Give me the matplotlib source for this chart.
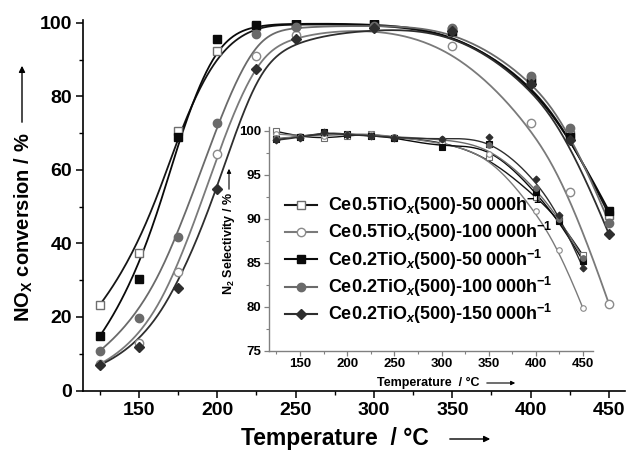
import numpy as np
import matplotlib
matplotlib.use("Agg")
import matplotlib.pyplot as plt
from matplotlib.lines import Line2D

plt.rcParams['font.family'] = ['Liberation Sans', 'DejaVu Sans']
plt.rcParams['font.weight'] = 'bold'
plt.rcParams['mathtext.fontset'] = 'custom'
plt.rcParams['mathtext.rm'] = 'Liberation Sans:bold'
plt.rcParams['mathtext.bf'] = 'Liberation Sans:bold'
plt.rcParams['mathtext.sf'] = 'Liberation Sans:bold'
plt.rcParams['mathtext.it'] = 'Liberation Sans:italic:bold'
plt.rcParams['mathtext.default'] = 'bf'

# ---------------- data ----------------
temps = [125, 150, 175, 200, 225, 250, 300, 350, 400, 425, 450]

labels = [
    "Ce0.5TiO$_{\\mathit{x}}$(500)-50\u2009000h$^{-1}$",
    "Ce0.5TiO$_{\\mathit{x}}$(500)-100\u2009000h$^{-1}$",
    "Ce0.2TiO$_{\\mathit{x}}$(500)-50\u2009000h$^{-1}$",
    "Ce0.2TiO$_{\\mathit{x}}$(500)-100\u2009000h$^{-1}$",
    "Ce0.2TiO$_{\\mathit{x}}$(500)-150\u2009000h$^{-1}$",
]

# NOx conversion (%)
conv_ce05_50k = [23.3, 37.5, 70.6, 92.5, 99.3, 99.6, 99.6, 97.5, 84.5, 69.5, 47.8]
conv_ce05_100k = [7.2, 12.9, 32.2, 64.4, 91.0, 96.8, 98.8, 93.6, 72.9, 54.1, 23.5]
conv_ce02_50k = [14.8, 30.3, 69.0, 95.6, 99.5, 99.8, 99.8, 97.8, 84.0, 69.0, 48.8]
conv_ce02_100k = [10.8, 19.6, 41.7, 72.7, 96.9, 99.0, 99.3, 98.6, 85.5, 71.3, 45.7]
conv_ce02_150k = [6.9, 11.9, 27.8, 54.9, 87.5, 95.6, 98.5, 97.8, 83.5, 68.2, 42.5]

# N2 selectivity (%)
sel_ce05_50k = [99.9, 99.3, 99.1, 99.4, 99.6, 99.2, 98.8, 97.0, 92.5, 89.9, 85.8]
sel_ce05_100k = [99.6, 99.4, 99.4, 99.6, 99.6, 99.3, 98.6, 97.3, 90.8, 86.4, 79.8]
sel_ce02_50k = [99.0, 99.3, 99.8, 99.6, 99.4, 99.2, 98.1, 98.45, 93.0, 89.7, 85.2]
sel_ce02_100k = [99.1, 99.3, 99.7, 99.6, 99.4, 99.3, 99.0, 98.3, 93.5, 90.0, 85.5]
sel_ce02_150k = [98.9, 99.2, 99.8, 99.5, 99.4, 99.2, 99.0, 99.25, 94.5, 90.4, 84.4]

conv_series = [conv_ce05_50k, conv_ce05_100k, conv_ce02_50k, conv_ce02_100k, conv_ce02_150k]
sel_series = [sel_ce05_50k, sel_ce05_100k, sel_ce02_50k, sel_ce02_100k, sel_ce02_150k]

# styles
line_colors = ['#151515', '#7a7a7a', '#0a0a0a', '#6a6a6a', '#2e2e2e']
markers = ['s', 'o', 's', 'o', 'D']
mfaces = ['white', 'white', '#0a0a0a', '#6a6a6a', '#2e2e2e']
medges = ['#6e6e6e', '#8a8a8a', '#0a0a0a', '#6a6a6a', '#2e2e2e']


def bspline(xs, ys, n=400, k=3):
    """Clamped cubic B-spline (line-connection style) with data as control points."""
    P = np.column_stack([xs, ys]).astype(float)
    m = len(P)
    knots = np.array([0.0] * (k + 1) + list(range(1, m - k)) + [float(m - k)] * (k + 1))
    t = np.linspace(0, m - k, n)
    t[-1] -= 1e-9
    N = np.zeros((n, len(knots) - 1))
    for i in range(len(knots) - 1):
        N[:, i] = (knots[i] <= t) & (t < knots[i + 1])
    for p in range(1, k + 1):
        newN = np.zeros((n, len(knots) - 1 - p))
        for i in range(len(knots) - 1 - p):
            d1 = knots[i + p] - knots[i]
            d2 = knots[i + p + 1] - knots[i + 1]
            a = (t - knots[i]) / d1 * N[:, i] if d1 > 0 else 0
            b = (knots[i + p + 1] - t) / d2 * N[:, i + 1] if d2 > 0 else 0
            newN[:, i] = a + b
        N = newN
    C = N @ P
    return C[:, 0], C[:, 1]


W, H = 627, 450
fig = plt.figure(figsize=(W / 100, H / 100), dpi=100)

# ---------------- main axes ----------------
ax = fig.add_axes([83 / W, 1 - 390.5 / H, (625 - 83) / W, (390.5 - 20) / H])
for ys, lc, mk, mf, me in zip(conv_series, line_colors, markers, mfaces, medges):
    cx, cy = bspline(temps, ys)
    ax.plot(cx, cy, color=lc, lw=1.3, zorder=2)
    ax.plot(temps, ys, ls='none', marker=mk, ms=6 if mk != 'D' else 5.5,
            mfc=mf, mec=me, mew=1.0, zorder=3)

ax.set_xlim(114.3, 460.2)
ax.set_ylim(0, 100.8)
ax.set_xticks([150, 200, 250, 300, 350, 400, 450])
ax.set_xticks([125, 175, 225, 275, 325, 375, 425], minor=True)
ax.set_yticks([0, 20, 40, 60, 80, 100])
ax.set_yticks([10, 30, 50, 70, 90], minor=True)
for s in ['top', 'right']:
    ax.spines[s].set_visible(False)
for s in ['left', 'bottom']:
    ax.spines[s].set_linewidth(1.2)
ax.tick_params(which='major', direction='out', length=5, width=1.1, labelsize=14, pad=3)
ax.tick_params(which='minor', direction='out', length=3, width=1.0)
for lab in ax.get_xticklabels() + ax.get_yticklabels():
    lab.set_fontweight('bold')
ax.patch.set_alpha(0)

# main axis labels with arrows
fig.text(335 / W, 1 - 439 / H, "Temperature  / \u00b0C", ha='center', va='center',
         fontsize=16.5, fontweight='bold')
fig.add_artist(matplotlib.patches.FancyArrowPatch(
    (447 / W, 1 - 439 / H), (493 / W, 1 - 439 / H), transform=fig.transFigure,
    arrowstyle='-|>', mutation_scale=9, lw=1.0, color='black'))
fig.text(24 / W, 1 - 227 / H, "NO$_{X}$ conversion / %", ha='center', va='center',
         rotation=90, fontsize=14.5, fontweight='bold')
fig.add_artist(matplotlib.patches.FancyArrowPatch(
    (22 / W, 1 - 125 / H), (22 / W, 1 - 63 / H), transform=fig.transFigure,
    arrowstyle='-|>', mutation_scale=9, lw=1.0, color='black'))

# ---------------- inset axes ----------------
axi = fig.add_axes([269.3 / W, 1 - 350.5 / H, (593 - 269.3) / W, (350.5 - 127) / H])
axi.patch.set_alpha(0)
for ys, lc, mk, mf, me in zip(sel_series, line_colors, markers, mfaces, medges):
    cx, cy = bspline(temps, ys)
    axi.plot(cx, cy, color=lc, lw=1.0, zorder=2)
    axi.plot(temps, ys, ls='none', marker=mk, ms=4 if mk != 'D' else 3.5,
             mfc=mf, mec=me, mew=0.8, zorder=3)
axi.set_xlim(117.4, 460.6)
axi.set_ylim(75, 100.4)
axi.set_xticks([150, 200, 250, 300, 350, 400, 450])
axi.set_xticks([125, 175, 225, 275, 325, 375, 425], minor=True)
axi.set_yticks([75, 80, 85, 90, 95, 100])
axi.set_yticks([77.5, 82.5, 87.5, 92.5, 97.5], minor=True)
for s in ['top', 'right']:
    axi.spines[s].set_visible(False)
for s in ['left', 'bottom']:
    axi.spines[s].set_color('#808080')
    axi.spines[s].set_linewidth(1.0)
axi.tick_params(which='major', direction='out', length=3.5, width=0.9, color='#808080',
                labelsize=9.5, pad=2)
axi.tick_params(which='minor', direction='out', length=2, width=0.8, color='#808080')
for lab in axi.get_xticklabels() + axi.get_yticklabels():
    lab.set_fontweight('bold')

fig.text(428 / W, 1 - 383 / H, "Temperature  / \u00b0C", ha='center', va='center',
         fontsize=9, fontweight='bold')
fig.add_artist(matplotlib.patches.FancyArrowPatch(
    (484 / W, 1 - 383 / H), (518 / W, 1 - 383 / H), transform=fig.transFigure,
    arrowstyle='-|>', mutation_scale=6, lw=0.8, color='black'))
fig.text(229 / W, 1 - 244 / H, "N$_2$ Selectivity / %", ha='center', va='center',
         rotation=90, fontsize=9, fontweight='bold')
fig.add_artist(matplotlib.patches.FancyArrowPatch(
    (229 / W, 1 - 192 / H), (229 / W, 1 - 166 / H), transform=fig.transFigure,
    arrowstyle='-|>', mutation_scale=6, lw=0.8, color='black'))

# legend
handles = []
for lc, mk, mf, me in zip(line_colors, markers, mfaces, medges):
    handles.append(Line2D([], [], color=lc, lw=1.5, marker=mk, ms=6 if mk != 'D' else 5.5,
                          mfc=mf, mec=me, mew=1.0))
leg = fig.legend(handles, labels, loc='upper left', bbox_to_anchor=(285 / W, 1 - 193 / H),
                 bbox_transform=fig.transFigure, frameon=False, borderpad=0,
                 borderaxespad=0, handlelength=1.78, handletextpad=0.6,
                 labelspacing=0.18, prop={'size': 13, 'weight': 'bold'})

fig.savefig("out.png", dpi=100)
